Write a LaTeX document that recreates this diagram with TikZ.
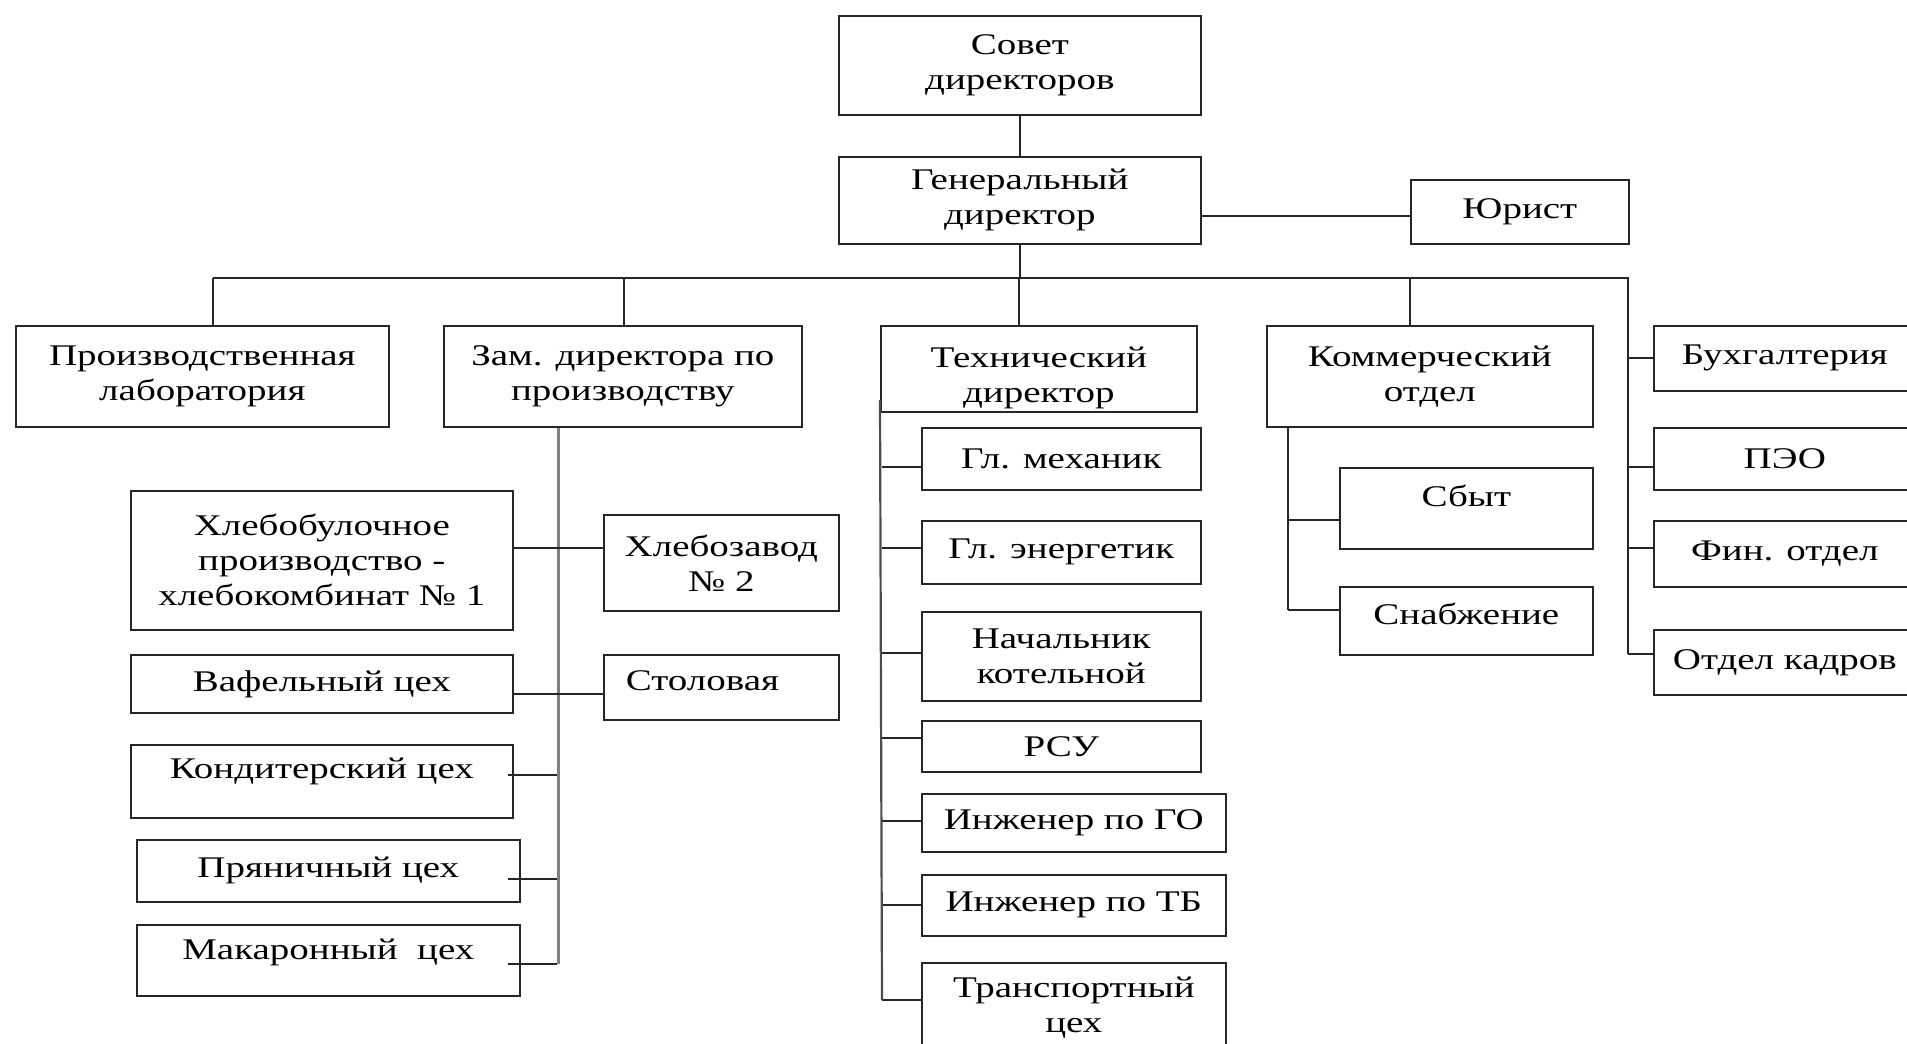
\documentclass[tikz,border=0pt]{standalone}
\usepackage{fontspec}
\setmainfont{Liberation Serif}[FakeStretch=1.3]
\usetikzlibrary{positioning}
\tikzset{
  unit/.style={draw=black!85, line width=1.7pt, anchor=north west, align=center,
    inner sep=2pt, font=\fontsize{30}{35}\selectfont},
  link/.style={line width=1.7pt, black!85},
  spine/.style={line width=3pt, gray},
}

\begin{document}
\begin{tikzpicture}[x=1pt, y=-1pt]
  \useasboundingbox (0,0) rectangle (1907,1044);

  % top of the tree
  \node[unit, minimum width=362, minimum height=99] (sovet) at (838,15) {Совет\\директоров};
  \node[unit, minimum width=362, minimum height=87] (gendir) at (838,156) {Генеральный\\директор};
  \node[unit, minimum width=218, minimum height=64] (yurist) at (1410,179) {Юрист};
  \draw[link] (sovet) -- (gendir);
  \draw[link] (gendir.east |- 0,216) -- (yurist.west |- 0,216);

  % second level
  \node[unit, minimum width=373, minimum height=101] (lab) at (15,325) {Производственная\\лаборатория};
  \node[unit, minimum width=358, minimum height=101] (zam) at (443,325) {Зам. директора по\\производству};
  \node[unit, minimum width=316, minimum height=86, text height=68pt, text depth=0pt] (tech) at (880,325) {Технический\\директор};
  \node[unit, minimum width=326, minimum height=101] (komm) at (1266,325) {Коммерческий\\отдел};

  \coordinate (bus) at (gendir.south |- 0,278);
  \draw[link] (gendir.south) -- (bus);
  \draw[link] (bus -| 213,0) -- (bus -| 1628,0) -- (1628,654);
  \foreach \nm/\x in {lab/213, zam/624, tech/1019, komm/1410}
    \draw[link] (bus -| \x,0) -- (\nm.north -| \x,0);

  % accounting column
  \foreach \nm/\yt/\yb/\ys/\txt in {buh/325/390/358/Бухгалтерия, peo/427/489/467/ПЭО,
      fin/520/586/548/{Фин. отдел}, kadry/629/694/654/{Отдел кадров}} {
    \node[unit, minimum width=262, minimum height=\yb-\yt] (\nm) at (1653,\yt) {\txt};
    \draw[link] (1628,\ys) -- (\nm.west |- 0,\ys);
  }

  % production
  \node[unit, minimum width=382, minimum height=139] (hleb) at (130,490) {Хлебобулочное\\производство -\\хлебокомбинат № 1};
  \node[unit, minimum width=235, minimum height=96] (zavod) at (603,514) {Хлебозавод\\№ 2};
  \node[unit, minimum width=382, minimum height=58] (vaf) at (130,654) {Вафельный цех};
  \node[unit, minimum width=235, minimum height=65, align=left, text width=191,
    inner xsep=22pt, text depth=14pt] (stol) at (603,654) {Столовая};
  \node[unit, minimum width=382, minimum height=73, text depth=26pt] (kond) at (130,744) {Кондитерский цех};
  \node[unit, minimum width=383, minimum height=62] (pryan) at (136,839) {Пряничный цех};
  \node[unit, minimum width=383, minimum height=71, text depth=22pt] (makar) at (136,924) {Макаронный\ \ цех};

  \draw[spine] (zam.south -| 558,0) -- (558,964);
  \draw[link] (hleb.east |- 0,548) -- (zavod.west |- 0,548);
  \draw[link] (vaf.east |- 0,694) -- (stol.west |- 0,694);
  \foreach \ys in {775, 879, 964}
    \draw[link] (508,\ys) -- (557,\ys);

  % technical services
  \foreach \nm/\yt/\yb/\ys/\w/\txt in {mech/427/489/467/279/{Гл. механик},
      energ/520/583/548/279/{Гл. энергетик}, kotel/611/700/653/279/{Начальник\\котельной},
      rsu/720/771/738/279/РСУ, igo/793/851/821/304/{Инженер по ГО},
      itb/874/935/905/304/{Инженер по ТБ}, trans/962/1052/1000/304/{Транспортный\\цех}} {
    \node[unit, minimum width=\w, minimum height=\yb-\yt] (\nm) at (921,\yt) {\txt};
    \draw[link] (882,\ys) -- (\nm.west |- 0,\ys);
  }
  \draw[spine, line width=2.2pt, gray!60!black] (tech.south west |- 0,400) -- (882,1000);

  % commerce
  \node[unit, minimum width=253, minimum height=81, text depth=26pt] (sbyt) at (1339,467) {Сбыт};
  \node[unit, minimum width=253, minimum height=68, text depth=14pt] (snab) at (1339,586) {Снабжение};
  \draw[link] (komm.south -| 1288,0) -- (1288,610);
  \draw[link] (1288,520) -- (sbyt.west |- 0,520);
  \draw[link] (1288,610) -- (snab.west |- 0,610);
\end{tikzpicture}
\end{document}
